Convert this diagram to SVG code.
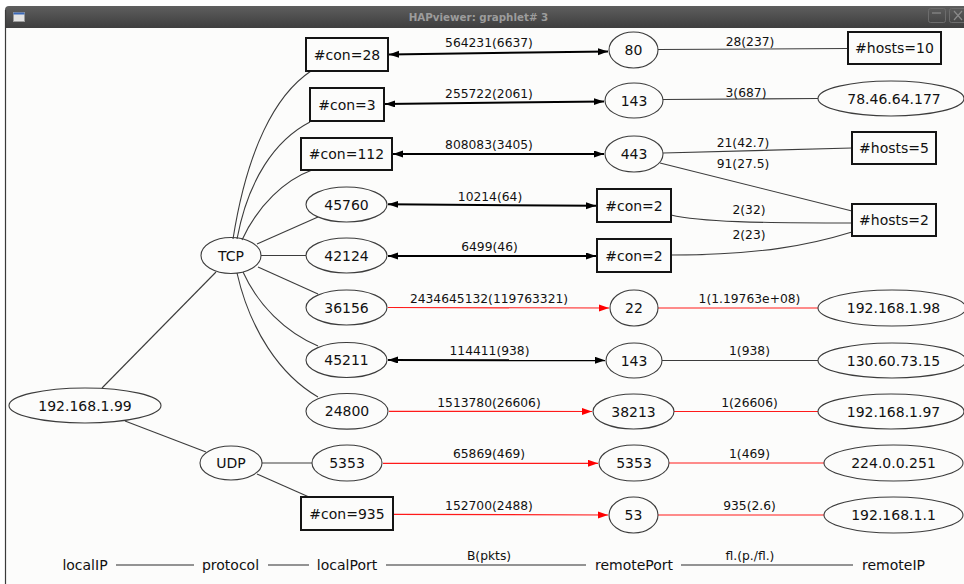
<svg xmlns="http://www.w3.org/2000/svg" width="964" height="584" viewBox="0 0 964 584">
<style>
.el{fill:none;stroke:#3c3c3c;stroke-width:1.1}
.bx{fill:none;stroke:#141414;stroke-width:2}
.nt{font-family:"DejaVu Sans",sans-serif;font-size:14px;fill:#111;text-anchor:middle}
.lb{font-family:"DejaVu Sans",sans-serif;font-size:12.3px;fill:#111;text-anchor:middle}
.ln{fill:none;stroke:#3c3c3c;stroke-width:1.1}
.bi{fill:none;stroke:#000;stroke-width:2;marker-start:url(#ab);marker-end:url(#ab)}
.rd{fill:none;stroke:#ff1a1a;stroke-width:1.2;marker-end:url(#ar)}
.rl{fill:none;stroke:#ff1a1a;stroke-width:1.2}
.lg{stroke:#707070;stroke-width:1.6}
</style>
<defs>
<marker id="ab" markerUnits="userSpaceOnUse" markerWidth="11" markerHeight="8" refX="10" refY="3.5" orient="auto-start-reverse">
<path d="M0,0 L10,3.5 L0,7 z" fill="#000"/>
</marker>
<marker id="ar" markerUnits="userSpaceOnUse" markerWidth="11" markerHeight="8" refX="10" refY="3.5" orient="auto">
<path d="M0,0 L10,3.5 L0,7 z" fill="#ff0000"/>
</marker>
<linearGradient id="tb" x1="0" y1="0" x2="0" y2="1">
<stop offset="0" stop-color="#5e5e5e"/>
<stop offset="1" stop-color="#3e3e3e"/>
</linearGradient>
</defs>
<rect x="0" y="0" width="964" height="584" fill="#ffffff"/>
<g id="window">
<rect x="5" y="28" width="965" height="560" fill="#fcfcfb"/>
<path d="M5,10 Q5,6 9,6 L970,6 L970,28 L5,28 z" fill="url(#tb)"/>
<line x1="5.5" y1="10" x2="5.5" y2="584" stroke="#3a3a3a" stroke-width="1.2"/>
<rect x="13.5" y="12.5" width="11" height="9" fill="#e2e2e2" stroke="#9a9a9a" stroke-width="1"/>
<rect x="13.5" y="12.5" width="11" height="2" fill="#3a68b8"/>
<text x="478.5" y="20.7" font-family="DejaVu Sans,sans-serif" font-weight="bold" font-size="10.3" fill="#9c9c9c" text-anchor="middle">HAPviewer: graphlet# 3</text>
<rect x="928.5" y="8.5" width="17" height="14" rx="2" fill="none" stroke="#6c6c6c"/>
<line x1="932" y1="13" x2="941" y2="13" stroke="#8a8a8a" stroke-width="1.2"/>
<rect x="949.5" y="8.5" width="17" height="14" rx="2" fill="none" stroke="#6c6c6c"/>
<path d="M954,11 L962,20 M962,11 L954,20" stroke="#8a8a8a" stroke-width="1.2"/>
</g>
<g id="connectors">
<path class="ln" d="M102,388 L216,272"/>
<path class="ln" d="M125,421 L206,452"/>
<path class="ln" d="M233,239 C247,150 275,95 311,71"/>
<path class="ln" d="M237,239 C248,180 275,140 310,122"/>
<path class="ln" d="M242,240 C258,205 285,180 312,170"/>
<path class="ln" d="M257,244 L318,217"/>
<path class="ln" d="M261,255.5 L306,255.5"/>
<path class="ln" d="M258,267 L318,294"/>
<path class="ln" d="M243,272 C258,305 285,332 318,346"/>
<path class="ln" d="M237,273 C250,330 280,375 318,397"/>
<path class="ln" d="M262,463 L312,463"/>
<path class="ln" d="M257,474 L309,497"/>
<path class="bi" d="M389,54.5 L608,51.5"/>
<path class="bi" d="M385,104 L604,101.5"/>
<path class="bi" d="M393,154 L604,154"/>
<path class="bi" d="M388,204.3 L596,205.8"/>
<path class="bi" d="M388,256 L596,256"/>
<path class="bi" d="M388,360 L605,360.3"/>
<path class="rd" d="M388,307.5 L609,308"/>
<path class="rd" d="M389,411.3 L592,411.5"/>
<path class="rd" d="M383,463.3 L598,463.3"/>
<path class="rd" d="M394,514.3 L608,515"/>
<path class="ln" d="M658,49.5 L848,48.5"/>
<path class="ln" d="M663,99.5 L818,98.5"/>
<path class="ln" d="M663,153 L852,148"/>
<path class="ln" d="M660,163 L852,211"/>
<path class="ln" d="M671,215 C700,222 760,223 852,223"/>
<path class="ln" d="M671,255 C760,255 810,245 852,232"/>
<path class="rl" d="M658,308 L818,308"/>
<path class="ln" d="M662,360.5 L818,360.5"/>
<path class="rl" d="M674,411.5 L818,411.5"/>
<path class="rl" d="M669,463 L824,463"/>
<path class="rl" d="M658,515 L824,515"/>
</g>
<g id="edge-labels">
<text class="lb" x="489" y="46.5">564231(6637)</text>
<text class="lb" x="489" y="98.3">255722(2061)</text>
<text class="lb" x="489" y="149">808083(3405)</text>
<text class="lb" x="490" y="200.7">10214(64)</text>
<text class="lb" x="489.5" y="251">6499(46)</text>
<text class="lb" x="489" y="302.5">2434645132(119763321)</text>
<text class="lb" x="489.5" y="355">114411(938)</text>
<text class="lb" x="489" y="406.5">1513780(26606)</text>
<text class="lb" x="489" y="458.3">65869(469)</text>
<text class="lb" x="489" y="510">152700(2488)</text>
<text class="lb" x="750" y="45.5">28(237)</text>
<text class="lb" x="746" y="96.5">3(687)</text>
<text class="lb" x="743" y="146.5">21(42.7)</text>
<text class="lb" x="743" y="168">91(27.5)</text>
<text class="lb" x="749" y="214">2(32)</text>
<text class="lb" x="749" y="238.5">2(23)</text>
<text class="lb" x="749.5" y="302.5">1(1.19763e+08)</text>
<text class="lb" x="749.5" y="355">1(938)</text>
<text class="lb" x="749.5" y="406.5">1(26606)</text>
<text class="lb" x="749.5" y="458.3">1(469)</text>
<text class="lb" x="749.5" y="510">935(2.6)</text>
</g>
<g id="n-localip"><ellipse class="el" cx="85" cy="405.5" rx="76" ry="17.5"/><text class="nt" x="85" y="410.5">192.168.1.99</text></g>
<g id="n-tcp"><ellipse class="el" cx="231" cy="255.5" rx="30" ry="18"/><text class="nt" x="231" y="260.5">TCP</text></g>
<g id="n-udp"><ellipse class="el" cx="231" cy="463" rx="31" ry="17"/><text class="nt" x="231" y="468">UDP</text></g>
<g id="n-lp1"><rect class="bx" x="306" y="38" width="82" height="33"/><text class="nt" x="347" y="59.5">#con=28</text></g>
<g id="n-lp2"><rect class="bx" x="310" y="88" width="74" height="33"/><text class="nt" x="347" y="109.5">#con=3</text></g>
<g id="n-lp3"><rect class="bx" x="301" y="138" width="91" height="32"/><text class="nt" x="346.5" y="159">#con=112</text></g>
<g id="n-lp4"><ellipse class="el" cx="346.5" cy="204.5" rx="40.5" ry="17.5"/><text class="nt" x="346.5" y="209.5">45760</text></g>
<g id="n-lp5"><ellipse class="el" cx="346.5" cy="255.5" rx="40.5" ry="17.5"/><text class="nt" x="346.5" y="260.5">42124</text></g>
<g id="n-lp6"><ellipse class="el" cx="346.5" cy="307.5" rx="40.5" ry="17.5"/><text class="nt" x="346.5" y="312.5">36156</text></g>
<g id="n-lp7"><ellipse class="el" cx="346.5" cy="360" rx="40.5" ry="17.5"/><text class="nt" x="346.5" y="365">45211</text></g>
<g id="n-lp8"><ellipse class="el" cx="347" cy="411.3" rx="41" ry="17.8"/><text class="nt" x="347" y="416.3">24800</text></g>
<g id="n-lp9"><ellipse class="el" cx="347" cy="463" rx="35" ry="18"/><text class="nt" x="347" y="468">5353</text></g>
<g id="n-lp10"><rect class="bx" x="301" y="497" width="92" height="33"/><text class="nt" x="347" y="518.5">#con=935</text></g>
<g id="n-rp1"><ellipse class="el" cx="633.5" cy="50" rx="24.5" ry="18"/><text class="nt" x="633.5" y="55">80</text></g>
<g id="n-rp2"><ellipse class="el" cx="634" cy="100.5" rx="29" ry="17.5"/><text class="nt" x="634" y="105.5">143</text></g>
<g id="n-rp3"><ellipse class="el" cx="634" cy="154" rx="29" ry="18"/><text class="nt" x="634" y="159">443</text></g>
<g id="n-rp4"><rect class="bx" x="597" y="189" width="74" height="33"/><text class="nt" x="634" y="210.5">#con=2</text></g>
<g id="n-rp5"><rect class="bx" x="597" y="239" width="74" height="33"/><text class="nt" x="634" y="260.5">#con=2</text></g>
<g id="n-rp6"><ellipse class="el" cx="634" cy="308" rx="24" ry="18"/><text class="nt" x="634" y="313">22</text></g>
<g id="n-rp7"><ellipse class="el" cx="634" cy="360.5" rx="28" ry="17.5"/><text class="nt" x="634" y="365.5">143</text></g>
<g id="n-rp8"><ellipse class="el" cx="633.5" cy="411.5" rx="40.5" ry="17.5"/><text class="nt" x="633.5" y="416.5">38213</text></g>
<g id="n-rp9"><ellipse class="el" cx="634" cy="463" rx="35" ry="18"/><text class="nt" x="634" y="468">5353</text></g>
<g id="n-rp10"><ellipse class="el" cx="633.5" cy="515" rx="24.5" ry="18"/><text class="nt" x="633.5" y="520">53</text></g>
<g id="n-ri1"><rect class="bx" x="848" y="32" width="93" height="32"/><text class="nt" x="894.5" y="53">#hosts=10</text></g>
<g id="n-ri2"><ellipse class="el" cx="891" cy="98.5" rx="73" ry="17.5"/><text class="nt" x="894" y="103.5">78.46.64.177</text></g>
<g id="n-ri3"><rect class="bx" x="852" y="132" width="84" height="32"/><text class="nt" x="894" y="153">#hosts=5</text></g>
<g id="n-ri4"><rect class="bx" x="852" y="204" width="84" height="32"/><text class="nt" x="894" y="225">#hosts=2</text></g>
<g id="n-ri5"><ellipse class="el" cx="892" cy="308" rx="74" ry="18"/><text class="nt" x="893.5" y="313">192.168.1.98</text></g>
<g id="n-ri6"><ellipse class="el" cx="892" cy="360.5" rx="74" ry="17.5"/><text class="nt" x="893.5" y="365.5">130.60.73.15</text></g>
<g id="n-ri7"><ellipse class="el" cx="891" cy="411.5" rx="73" ry="17.5"/><text class="nt" x="893.5" y="416.5">192.168.1.97</text></g>
<g id="n-ri8"><ellipse class="el" cx="893.5" cy="463" rx="69.5" ry="18"/><text class="nt" x="893.5" y="468">224.0.0.251</text></g>
<g id="n-ri9"><ellipse class="el" cx="893.5" cy="515" rx="69.5" ry="18"/><text class="nt" x="893.5" y="520">192.168.1.1</text></g>
<g id="legend">
<text class="nt" x="85" y="569.5">localIP</text>
<line class="lg" x1="116" y1="565" x2="194" y2="565"/>
<text class="nt" x="230.5" y="569.5">protocol</text>
<line class="lg" x1="268" y1="565" x2="309" y2="565"/>
<text class="nt" x="347" y="569.5">localPort</text>
<line class="lg" x1="386" y1="565" x2="586" y2="565"/>
<text class="lb" x="489" y="560">B(pkts)</text>
<text class="nt" x="634" y="569.5">remotePort</text>
<line class="lg" x1="681" y1="565" x2="853" y2="565"/>
<text class="lb" x="750" y="560">fl.(p./fl.)</text>
<text class="nt" x="893.5" y="569.5">remoteIP</text>
</g>
</svg>
